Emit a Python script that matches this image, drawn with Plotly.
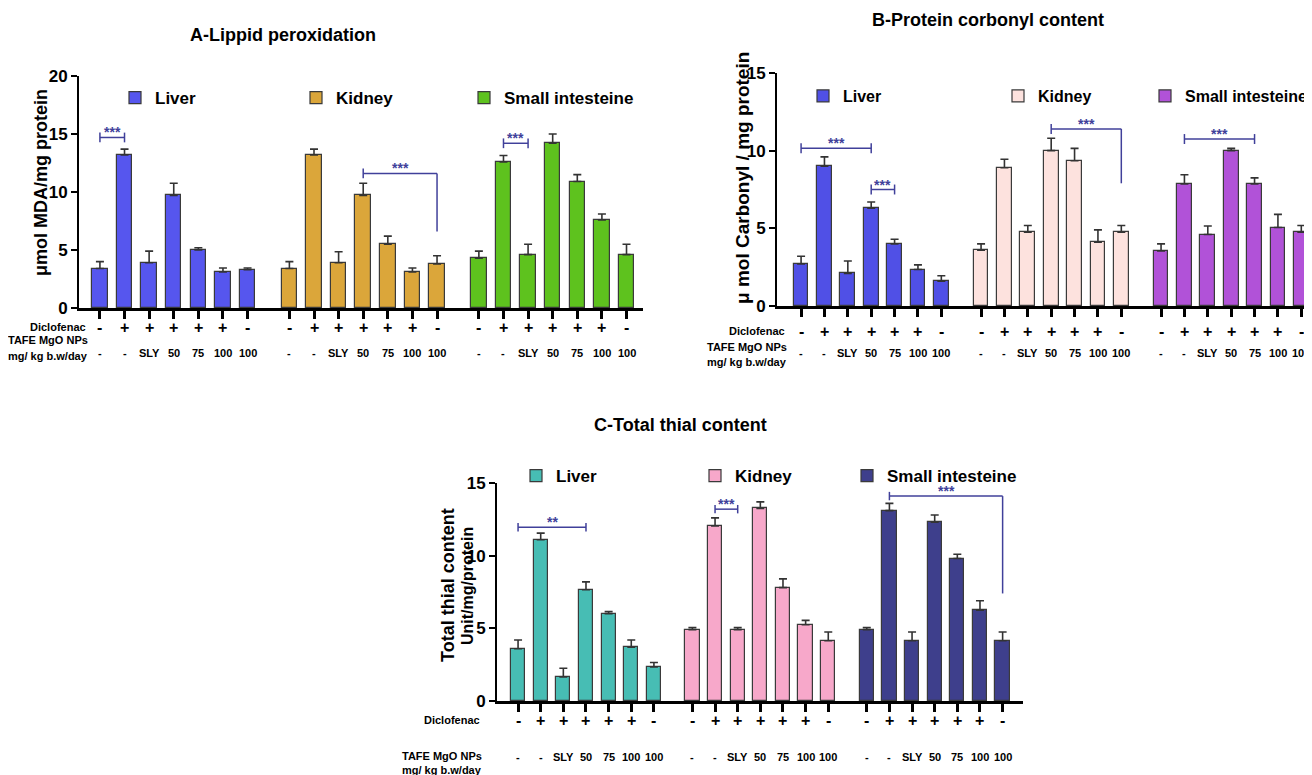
import plotly.graph_objects as go

# ---------------- data ----------------
organs = ["Liver", "Kidney", "Small intesteine"]
diclofenac = ["-", "+", "+", "+", "+", "+", "-"]
doses = ["-", "-", "SLY", "50", "75", "100", "100"]

# A - Lipid peroxidation (µmol MDA/mg protein)
A_liver = [3.4, 13.2, 3.9, 9.7, 5.0, 3.1, 3.3]
A_liver_err = [0.6, 0.5, 1.0, 1.05, 0.2, 0.35, 0.15]
A_kidney = [3.4, 13.2, 3.9, 9.7, 5.5, 3.1, 3.8]
A_kidney_err = [0.6, 0.5, 0.95, 1.05, 0.7, 0.35, 0.7]
A_intestine = [4.3, 12.6, 4.6, 14.2, 10.9, 7.6, 4.6]
A_intestine_err = [0.6, 0.55, 0.9, 0.8, 0.6, 0.5, 0.9]

# B - Protein carbonyl content
B_liver = [2.7, 9.0, 2.1, 6.3, 4.0, 2.35, 1.6]
B_liver_err = [0.5, 0.6, 0.8, 0.4, 0.3, 0.3, 0.35]
B_kidney = [3.6, 8.9, 4.75, 10.0, 9.35, 4.1, 4.75]
B_kidney_err = [0.4, 0.55, 0.43, 0.8, 0.8, 0.8, 0.43]
B_intestine = [3.55, 7.85, 4.6, 10.0, 7.85, 5.05, 4.75]
B_intestine_err = [0.45, 0.6, 0.55, 0.15, 0.4, 0.85, 0.43]

# C - Total thiol content
C_liver = [3.6, 11.1, 1.65, 7.65, 6.0, 3.7, 2.35]
C_liver_err = [0.6, 0.45, 0.6, 0.55, 0.15, 0.5, 0.3]
C_kidney = [4.9, 12.05, 4.9, 13.25, 7.8, 5.25, 4.15]
C_kidney_err = [0.15, 0.55, 0.15, 0.45, 0.6, 0.3, 0.6]
C_intestine = [4.9, 13.1, 4.15, 12.3, 9.8, 6.25, 4.15]
C_intestine_err = [0.15, 0.5, 0.6, 0.5, 0.3, 0.65, 0.6]

# significance brackets: (group, start bar, end bar, level, drop-to level or None, label)
A_sig = [(0, 0, 1, 14.7, None, "***"), (1, 3, 6, 11.6, 6.6, "***"), (2, 1, 2, 14.2, None, "***")]
B_sig = [(0, 0, 3, 10.15, None, "***"), (0, 3, 4, 7.5, None, "***"),
         (1, 3, 6, 11.4, 7.9, "***"), (2, 1, 4, 10.75, None, "***")]
C_sig = [(0, 0, 3, 11.95, None, "**"), (1, 1, 2, 13.2, None, "***"), (2, 1, 6, 14.1, 7.4, "***")]

# ---------------- styling / layout helpers ----------------
W, H = 1312, 775
OFF = 8  # page body margin compensation
FONT = "Liberation Sans, Arial, sans-serif"
GROUP_OFFSET = 7.7
SIG_COLOR = "#40409a"


def px_x(x):
    return (x - OFF) / W


def px_y(y):
    return 1 - (y - OFF) / H


def positions(g):
    return [g * GROUP_OFFSET + i for i in range(7)]


panels = [
    dict(values=[A_liver, A_kidney, A_intestine],
         errs=[A_liver_err, A_kidney_err, A_intestine_err],
         colors=["#5656ee", "#dba63a", "#5ec21e"], line="#3a3a3a",
         sig=A_sig, cap=0.42, yrange=[0, 20], ytick=5,
         xdom=[79, 643], ydom=[308, 76], xr=[-0.85, 22.07],
         title="A-Lippid peroxidation", title_xy=(283, 35),
         ytitles=[("μmol MDA/mg protein", 41, 183, 18)],
         legend_text_x=[157, 338, 506], legend_y=98, legend_size=17,
         dicl_y=327, dose_y=353, rowlab_x=88, dicl_lab_y=327, dose_lab_y=[340, 356]),
    dict(values=[B_liver, B_kidney, B_intestine],
         errs=[B_liver_err, B_kidney_err, B_intestine_err],
         colors=["#5050e6", "#fde2de", "#b152d8"], line="#3a3a3a",
         sig=B_sig, cap=0.32, yrange=[0, 15], ytick=5,
         xdom=[777, 1320], ydom=[306, 73], xr=[-1.03, 22.2],
         title="B-Protein corbonyl content", title_xy=(988, 20),
         ytitles=[("μ mol Carbonyl / mg protein", 742, 178, 19)],
         legend_text_x=[845, 1040, 1187], legend_y=96, legend_size=16,
         dicl_y=331, dose_y=353, rowlab_x=787, dicl_lab_y=331, dose_lab_y=[347, 362]),
    dict(values=[C_liver, C_kidney, C_intestine],
         errs=[C_liver_err, C_kidney_err, C_intestine_err],
         colors=["#47bdb4", "#f7a8ca", "#3e3f8c"], line="#3a3a3a",
         sig=C_sig, cap=0.29, yrange=[0, 15], ytick=5,
         xdom=[497, 1023], ydom=[701, 483], xr=[-0.93, 22.3],
         title="C-Total thial content", title_xy=(680, 425),
         ytitles=[("Total thial content", 448, 585, 18), ("Unit/mg/protein", 467, 586, 16)],
         legend_text_x=[558, 737, 889], legend_y=476, legend_size=17,
         dicl_y=720, dose_y=757, rowlab_x=482, dicl_lab_y=720, dose_lab_y=[756, 770]),
]

fig = go.Figure()
layout = dict(width=W, height=H, autosize=False,
              margin=dict(l=0, r=0, t=0, b=0, pad=0, autoexpand=False),
              paper_bgcolor="white", plot_bgcolor="white", bargap=0,
              font=dict(family=FONT, color="black"), showlegend=True)
annotations = []
shapes = []
legend_idx = 0


def note(x, y, text, size, xref="paper", yref="paper", xanchor="center", yanchor="middle",
         color="black", weight="bold", angle=0, yshift=0):
    annotations.append(dict(x=x, y=y, xref=xref, yref=yref, text=text, showarrow=False,
                            xanchor=xanchor, yanchor=yanchor, textangle=angle, yshift=yshift,
                            font=dict(family=FONT, size=size, weight=weight, color=color)))


for p_i, p in enumerate(panels):
    n = "" if p_i == 0 else str(p_i + 1)
    xa, ya = "x" + n, "y" + n
    tickpos = []
    for g in range(3):
        legend_idx += 1
        lname = "legend" if legend_idx == 1 else "legend%d" % legend_idx
        xs = positions(g)
        tickpos += xs
        fig.add_trace(go.Bar(
            x=xs, y=p["values"][g], name=organs[g], width=0.63,
            marker=dict(color=p["colors"][g], line=dict(color=p["line"], width=1.2)),
            error_y=dict(type="data", symmetric=False, array=p["errs"][g],
                         arrayminus=[0] * 7, color="#333333", thickness=1.6, width=4),
            xaxis=xa, yaxis=ya, legend=lname, showlegend=True))
        layout[lname] = dict(x=px_x(p["legend_text_x"][g] - 42), xanchor="left",
                             y=px_y(p["legend_y"]), yanchor="middle",
                             bgcolor="rgba(0,0,0,0)", borderwidth=0,
                             font=dict(family=FONT, size=p["legend_size"], weight="bold",
                                       color="black"))

        # diclofenac and dose rows under each bar
        for i in range(7):
            note(xs[i], px_y(p["dicl_y"]), diclofenac[i], 16, xref=xa)
            note(xs[i], px_y(p["dose_y"]), doses[i], 11, xref=xa)

    layout["xaxis" + n] = dict(domain=[px_x(p["xdom"][0]), min(1.0, px_x(p["xdom"][1]))],
                               range=p["xr"], anchor=ya, showline=True, linecolor="black",
                               linewidth=2.5, ticks="outside", ticklen=8, tickwidth=2.5,
                               tickcolor="black", tickvals=tickpos, showticklabels=False,
                               showgrid=False, zeroline=False)
    layout["yaxis" + n] = dict(domain=[px_y(p["ydom"][0]), px_y(p["ydom"][1])], range=p["yrange"],
                               anchor=xa, showline=True, linecolor="black", linewidth=2,
                               ticks="outside", ticklen=6, tickwidth=2, tickcolor="black",
                               dtick=p["ytick"], tick0=0, showgrid=False, zeroline=False,
                               tickfont=dict(family=FONT, size=17, weight="bold"))

    note(px_x(p["title_xy"][0]), px_y(p["title_xy"][1]), p["title"], 18)
    for (txt, tx, ty, ts) in p["ytitles"]:
        note(px_x(tx), px_y(ty), txt, ts, angle=-90)
    note(px_x(p["rowlab_x"]), px_y(p["dicl_lab_y"]), "Diclofenac", 11, xanchor="right")
    note(px_x(p["rowlab_x"] + 2), px_y(p["dose_lab_y"][0]), "TAFE MgO NPs", 11, xanchor="right")
    note(px_x(p["rowlab_x"] + 2), px_y(p["dose_lab_y"][1]), "mg/ kg b.w/day", 11, xanchor="right")

    # significance brackets
    for (g, i0, i1, lev, drop, lab) in p["sig"]:
        xs = positions(g)
        x0, x1 = xs[i0], xs[i1]
        c = p["cap"]
        ln = dict(color=SIG_COLOR, width=1.5)
        shapes.append(dict(type="line", xref=xa, yref=ya, x0=x0, x1=x1, y0=lev, y1=lev, line=ln))
        shapes.append(dict(type="line", xref=xa, yref=ya, x0=x0, x1=x0, y0=lev - c, y1=lev + c, line=ln))
        if drop is None:
            shapes.append(dict(type="line", xref=xa, yref=ya, x0=x1, x1=x1, y0=lev - c, y1=lev + c, line=ln))
        else:
            shapes.append(dict(type="line", xref=xa, yref=ya, x0=x1, x1=x1, y0=drop, y1=lev, line=ln))
        note((x0 + x1) / 2, lev, lab, 14, xref=xa, yref=ya, yanchor="bottom", yshift=-5,
             color=SIG_COLOR, weight="bold")

layout["annotations"] = annotations
layout["shapes"] = shapes
fig.update_layout(**layout)
fig.write_html("out.html")
